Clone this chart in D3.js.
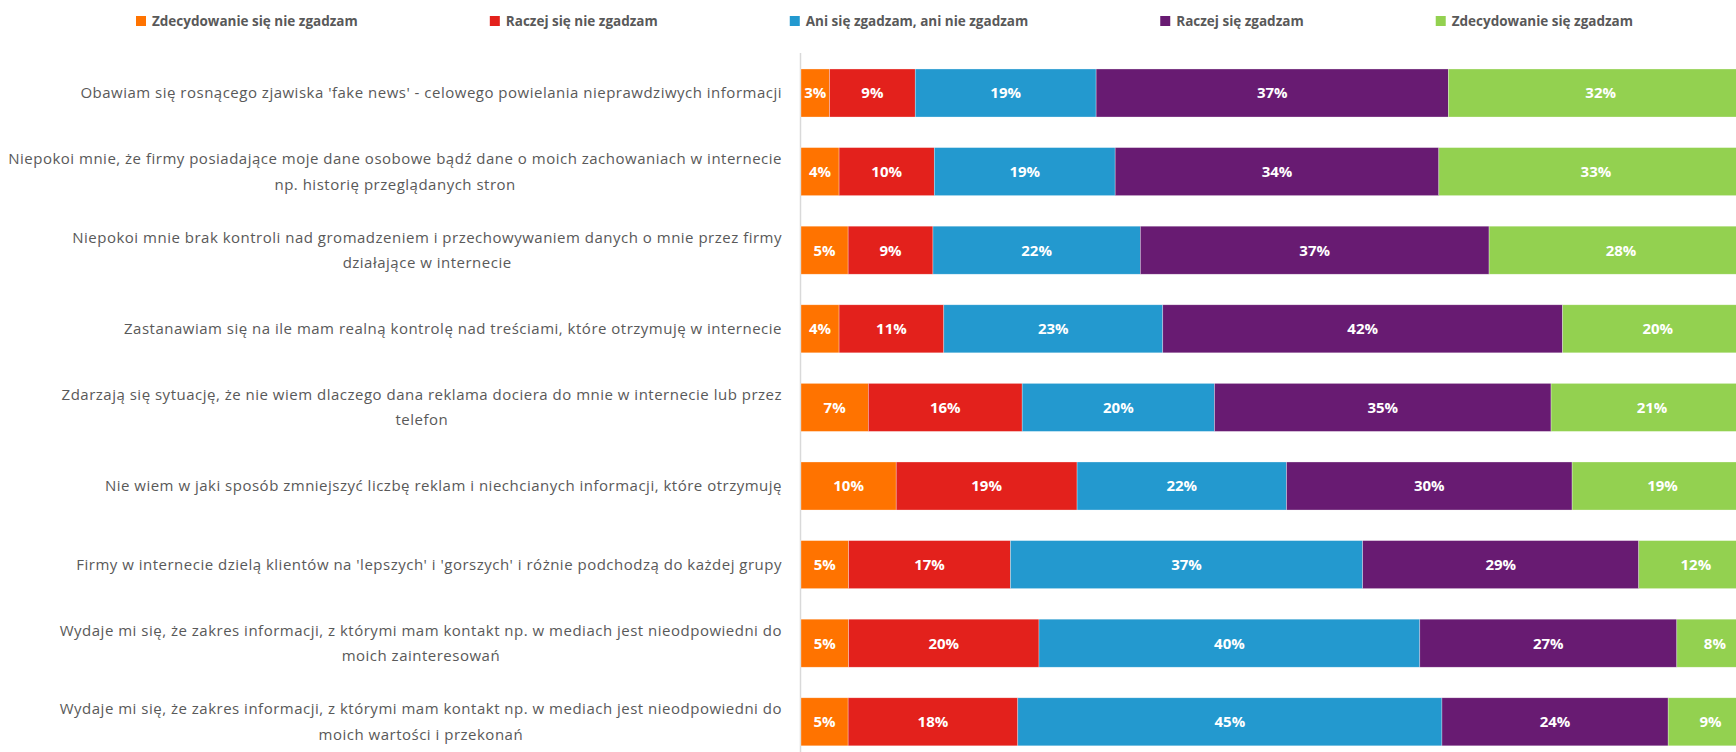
<!DOCTYPE html>
<meta charset="utf-8">
<html>
<head>
<style>
  body { margin: 0; background: #fff; }
  text { font-family: "Open Sans", sans-serif; }
</style>
</head>
<body>
<div id="chart"></div>
<script src="https://d3js.org/d3.v7.min.js"></script>
<script>

// answer categories (legend order = stack order)
var series = [
  "Zdecydowanie się nie zgadzam",
  "Raczej się nie zgadzam",
  "Ani się zgadzam, ani nie zgadzam",
  "Raczej się zgadzam",
  "Zdecydowanie się zgadzam"
];

var colors = ["#ff7300", "#e3211c", "#2399cf", "#681b72", "#93d150"];

// statements, already broken into lines as in the original
var categories = [
  ["Obawiam się rosnącego zjawiska 'fake news' - celowego powielania nieprawdziwych informacji"],
  ["Niepokoi mnie, że firmy posiadające moje dane osobowe bądź dane o moich zachowaniach w internecie", "np. historię przeglądanych stron"],
  ["Niepokoi mnie brak kontroli nad gromadzeniem i przechowywaniem danych o mnie przez firmy", "działające w internecie"],
  ["Zastanawiam się na ile mam realną kontrolę nad treściami, które otrzymuję w internecie"],
  ["Zdarzają się sytuację, że nie wiem dlaczego dana reklama dociera do mnie w internecie lub przez", "telefon"],
  ["Nie wiem w jaki sposób zmniejszyć liczbę reklam i niechcianych informacji, które otrzymuję"],
  ["Firmy w internecie dzielą klientów na 'lepszych' i 'gorszych' i różnie podchodzą do każdej grupy"],
  ["Wydaje mi się, że zakres informacji, z którymi mam kontakt np. w mediach jest nieodpowiedni do", "moich zainteresowań"],
  ["Wydaje mi się, że zakres informacji, z którymi mam kontakt np. w mediach jest nieodpowiedni do", "moich wartości i przekonań"]
];

// percentages per answer, one value per statement
var stronglyDisagree = [3, 4, 5, 4, 7, 10, 5, 5, 5];
var ratherDisagree   = [9, 10, 9, 11, 16, 19, 17, 20, 18];
var neutral          = [19, 19, 22, 23, 20, 22, 37, 40, 45];
var ratherAgree      = [37, 34, 37, 42, 35, 30, 29, 27, 24];
var stronglyAgree    = [32, 33, 28, 20, 21, 19, 12, 8, 9];

var W = 1736, H = 752;
var svg = d3.select("#chart").append("svg")
    .attr("width", W)
    .attr("height", H);

var rows = categories.map(function(c, i) {
  var vals = [stronglyDisagree[i], ratherDisagree[i], neutral[i], ratherAgree[i], stronglyAgree[i]];
  var total = d3.sum(vals);
  var acc = 0;
  var segs = vals.map(function(v, k) {
    var s = {key: k, value: v, x0: acc / total, x1: (acc + v) / total};
    acc += v;
    return s;
  });
  return {idx: i, lines: c, segs: segs};
});

var x = d3.scaleLinear().domain([0, 1]).range([801, 1753]);

var y = d3.scaleBand()
    .domain(d3.range(categories.length))
    .range([53.7, 761.1])
    .paddingInner(0.389)
    .paddingOuter(0.1945);

// vertical axis line
svg.append("line")
    .attr("x1", x(0) - 0.5).attr("x2", x(0) - 0.5)
    .attr("y1", 53).attr("y2", H)
    .attr("stroke", "#d9d9d9")
    .attr("stroke-width", 1.5);

var row = svg.append("g").selectAll("g")
  .data(rows)
  .enter().append("g")
    .attr("transform", function(d) { return "translate(0," + y(d.idx) + ")"; });

row.selectAll("rect")
  .data(function(d) { return d.segs; })
  .enter().append("rect")
    .attr("x", function(d) { return x(d.x0); })
    .attr("width", function(d) { return x(d.x1) - x(d.x0); })
    .attr("y", 0)
    .attr("height", y.bandwidth())
    .attr("fill", function(d) { return colors[d.key]; })
    .attr("stroke", "#ffffff")
    .attr("stroke-opacity", 0.5)
    .attr("stroke-width", 0.6);

row.selectAll("text.val")
  .data(function(d) { return d.segs; })
  .enter().append("text")
    .attr("class", "val")
    .attr("x", function(d) { return (x(d.x0) + x(d.x1)) / 2; })
    .attr("y", y.bandwidth() / 2)
    .attr("dy", "0.36em")
    .attr("text-anchor", "middle")
    .style("font-size", "15px")
    .style("font-weight", "bold")
    .style("fill", "#ffffff")
    .text(function(d) { return d.value + "%"; });

// category labels: block right-aligned at the axis, lines centred inside it
var labelRight = 782, lineGap = 25.5;
rows.forEach(function(d) {
  var g = svg.append("g");
  var cy = y(d.idx) + y.bandwidth() / 2;
  var n = d.lines.length;
  var texts = d.lines.map(function(t, j) {
    return g.append("text")
      .attr("y", cy + (j - (n - 1) / 2) * lineGap)
      .attr("dy", "0.35em")
      .attr("text-anchor", "middle")
      .style("font-size", "15px")
      .style("letter-spacing", "0.5px")
      .style("fill", "#595959")
      .text(t);
  });
  var maxW = d3.max(texts, function(t) { return t.node().getComputedTextLength(); });
  texts.forEach(function(t) { t.attr("x", labelRight - maxW / 2); });
});

// legend, spread between the first and last item edges
var legStart = 136, legEnd = 1633, legY = 21;
var leg = svg.append("g");
var items = series.map(function(s, i) {
  var g = leg.append("g");
  g.append("rect")
    .attr("x", 0).attr("y", -5)
    .attr("width", 10).attr("height", 10)
    .attr("fill", colors[i]);
  var t = g.append("text")
    .attr("x", 16)
    .attr("dy", "0.35em")
    .style("font-size", "13.5px")
    .style("font-weight", "bold")
    .style("fill", "#595959")
    .text(s);
  return {g: g, w: 16 + t.node().getComputedTextLength()};
});
var gap = (legEnd - legStart - d3.sum(items, function(d) { return d.w; })) / (items.length - 1);
var cx = legStart;
items.forEach(function(it) {
  it.g.attr("transform", "translate(" + cx + "," + legY + ")");
  cx += it.w + gap;
});

</script>
</body>
</html>
